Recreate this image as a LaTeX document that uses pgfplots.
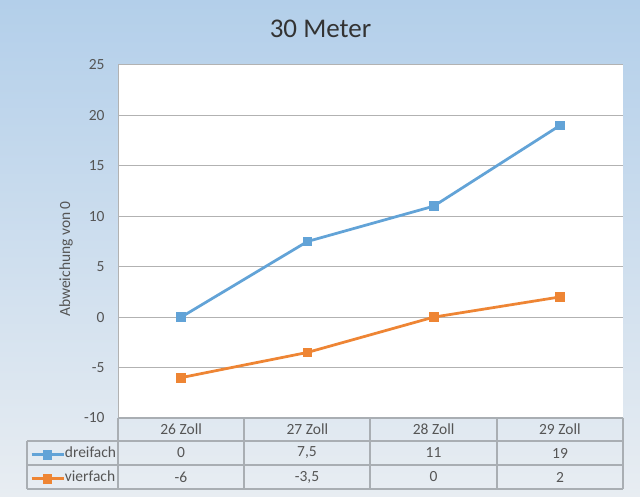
\documentclass[border=0pt]{standalone}
\usepackage{fontspec}
\setmainfont{Carlito}
\usepackage{pgfplots}
\pgfplotsset{compat=1.18}
\definecolor{bgtop}{HTML}{B3CFEA}
\definecolor{bgbot}{HTML}{E8EDF2}
\definecolor{gridc}{HTML}{B2B2B2}
\definecolor{tabc}{HTML}{A9AEB3}
\definecolor{ser1}{HTML}{62A3D7}
\definecolor{ser2}{HTML}{EE8534}
\definecolor{txt}{HTML}{555555}
\newcommand{\lbl}{\fontsize{15.5}{18}\selectfont}
\begin{document}
\begin{tikzpicture}[x=1pt,y=1pt]
\shade[top color=bgtop,bottom color=bgbot] (0,0) rectangle (640,497);
\node[anchor=base,text=black!80,font=\fontsize{27}{32}\selectfont,inner sep=0pt] at (320.5,459) {30 Meter};
\begin{axis}[
  at={(118pt,79pt)}, anchor=south west,
  scale only axis, width=505pt, height=353pt,
  xmin=-0.5, xmax=3.5, ymin=-10, ymax=25,
  ytick={-10,-5,0,5,10,15,20,25},
  xtick={0,1,2,3}, xticklabels={26 Zoll,27 Zoll,28 Zoll,29 Zoll},
  axis background/.style={fill=white},
  axis x line*=bottom, axis y line*=left,
  x axis line style={draw=none},
  y axis line style={gridc,line width=1pt,-},
  major tick length=0pt,
  ymajorgrids, grid style={gridc,line width=1pt},
  /pgf/number format/assume math mode=true,
  yticklabel style={font=\lbl,text=txt,xshift=-10pt},
  xticklabel style={font=\lbl,text=txt,anchor=center,yshift=-11.5pt},
  ylabel={Abweichung von 0},
  every axis y label/.style={at={(axis description cs:-0.103,0.4504)},rotate=90,anchor=center,font=\lbl,text=txt},
  legend style={at={(axis description cs:-0.1743,-0.0880)},anchor=north west,draw=none,fill=none,
     font=\lbl,text=txt,inner sep=0pt,row sep=13pt,
     nodes={inner sep=0pt,text height=8pt,text depth=3pt},
     /tikz/every even column/.append style={column sep=2pt}},
  legend cell align=left,
  legend image code/.code={\draw[mark repeat=2,mark phase=2,#1] plot coordinates {(0pt,0pt) (16pt,0pt) (32pt,0pt)};},
]
\addplot[ser1,line width=2.75pt,mark=square*,mark size=3.5pt,mark options={solid}] coordinates {(0,0) (1,7.5) (2,11) (3,19)};
\addlegendentry{dreifach}
\addplot[ser2,line width=2.75pt,mark=square*,mark size=3.5pt,mark options={solid}] coordinates {(0,-6) (1,-3.5) (2,0) (3,2)};
\addlegendentry{vierfach}
\end{axis}
% data table
\begin{scope}[tabc,line width=1.2pt]
\draw (118,79) -- (623,79);
\draw (27,56) -- (623,56);
\draw (27,32) -- (623,32);
\draw (27,8) -- (623,8);
\draw (27,56) -- (27,8);
\foreach \xx in {118,244,370,497,623} {\draw (\xx,79) -- (\xx,8);}
\end{scope}
\begin{scope}[every node/.style={font=\lbl,text=txt,anchor=center,inner sep=0pt}]
\node at (181,44) {0};
\node at (307,44) {7,5};
\node at (433.5,44) {11};
\node at (560,44) {19};
\node at (181,20) {-6};
\node at (307,20) {-3,5};
\node at (433.5,20) {0};
\node at (560,20) {2};
\end{scope}
\end{tikzpicture}
\end{document}
